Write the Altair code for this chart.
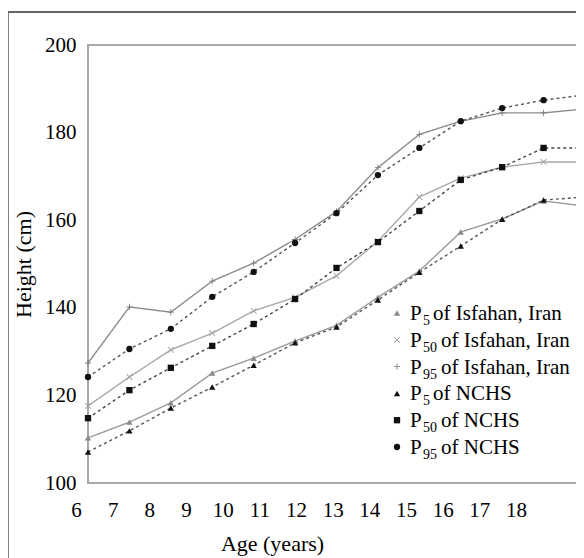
import altair as alt
import pandas as pd

# ---- data ----
ages = [6, 7, 8, 9, 10, 11, 12, 13, 14, 15, 16, 17, 18]
x_tick_labels = [6, 7, 8, 9, 10, 11, 12, 13, 14, 15, 16, 17, 18]
y_tick_labels = [100, 120, 140, 160, 180, 200]

p5_isfahan = [110.3, 113.9, 118.3, 125.1, 128.5, 132.4, 136.0, 142.4, 148.4, 157.3, 160.3, 164.4, 163.2]
p50_isfahan = [117.6, 124.2, 130.4, 134.2, 139.3, 142.4, 147.3, 155.2, 165.3, 169.6, 172.1, 173.3, 173.3]
p95_isfahan = [127.4, 140.2, 139.0, 146.1, 150.2, 155.6, 162.0, 172.0, 179.6, 182.6, 184.5, 184.5, 185.4]
p5_nchs = [107.1, 111.9, 117.1, 121.9, 126.9, 132.0, 135.6, 141.8, 148.1, 154.1, 160.2, 164.6, 165.3]
p50_nchs = [114.8, 121.2, 126.3, 131.3, 136.3, 142.0, 149.1, 155.0, 162.1, 169.2, 172.1, 176.5, 176.5]
p95_nchs = [124.2, 130.6, 135.2, 142.5, 148.2, 154.8, 161.6, 170.3, 176.5, 182.6, 185.6, 187.4, 188.6]

# legend texts: "P" + subscript percentile + rest
percentiles = ["5", "50", "95", "5", "50", "95"]
sources = ["of Isfahan, Iran", "of Isfahan, Iran", "of Isfahan, Iran",
           "of NCHS", "of NCHS", "of NCHS"]
series_names = ["P" + p + " " + s for p, s in zip(percentiles, sources)]
series_values = [p5_isfahan, p50_isfahan, p95_isfahan, p5_nchs, p50_nchs, p95_nchs]

rows = []
for name, vals in zip(series_names, series_values):
    for a, v in zip(ages, vals):
        rows.append({"series": name, "age": a, "height": v})
df = pd.DataFrame(rows)
legend_df = pd.DataFrame({
    "series": series_names,
    "sub": percentiles,
    "rest": sources,
    "ndigits": [len(p) for p in percentiles],
})

# ---- styling ----
W, H = 497, 438
FONT = "Liberation Serif"

line_colors = ["#9a9a9a", "#a8a8a8", "#8c8c8c", "#555555", "#444444", "#555555"]
line_dashes = [[1, 0], [1, 0], [1, 0], [3, 3], [3, 3], [3, 3]]
marker_colors = ["#8a8a8a", "#a0a0a0", "#7a7a7a", "#111111", "#111111", "#111111"]
X_SHAPE = ("M0,-0.21L0.79,-1L1,-0.79L0.21,0L1,0.79L0.79,1L0,0.21L-0.79,1L-1,0.79"
           "L-0.21,0L-1,-0.79L-0.79,-1Z")
PLUS_SHAPE = ("M-1,-0.14L-0.14,-0.14L-0.14,-1L0.14,-1L0.14,-0.14L1,-0.14L1,0.14"
              "L0.14,0.14L0.14,1L-0.14,1L-0.14,0.14L-1,0.14Z")
marker_shapes = ["triangle-up", X_SHAPE, PLUS_SHAPE, "triangle-up", "square", "circle"]

fill_enc = alt.Fill("series:N", scale=alt.Scale(domain=series_names, range=marker_colors), legend=None)
shape_enc = alt.Shape("series:N", scale=alt.Scale(domain=series_names, range=marker_shapes), legend=None)

x_main = alt.X("age:Q", scale=alt.Scale(domain=[6, 18], nice=False, zero=False), axis=None)
y_scale = alt.Scale(domain=[100, 200], nice=False, zero=False)
y_main = alt.Y(
    "height:Q",
    scale=y_scale,
    axis=alt.Axis(
        values=y_tick_labels,
        title="Height (cm)",
        ticks=False,
        domain=False,
        grid=False,
        labelFont=FONT,
        labelFontSize=21,
        labelColor="black",
        labelPadding=12,
        titleFont=FONT,
        titleFontSize=22,
        titleFontWeight="normal",
        titleColor="black",
        titlePadding=9,
    ),
)
y_plain = alt.Y("height:Q", scale=y_scale, axis=None)

lines = alt.Chart(df).mark_line(strokeWidth=1.4).encode(
    x=x_main,
    y=y_main,
    color=alt.Color("series:N", scale=alt.Scale(domain=series_names, range=line_colors), legend=None),
    strokeDash=alt.StrokeDash("series:N", scale=alt.Scale(domain=series_names, range=line_dashes), legend=None),
    detail="series:N",
)

points = alt.Chart(df).mark_point(filled=True, size=40, opacity=1).encode(
    x=x_main, y=y_plain, fill=fill_enc, shape=shape_enc
)

# legend drawn as its own small layer (rows placed by a point scale)
legend_y = alt.Y(
    "series:N",
    scale=alt.Scale(type="point", domain=series_names, range=[268, 402], padding=0),
    axis=None,
)
legend_base = alt.Chart(legend_df)
legend_symbols = legend_base.mark_point(filled=True, size=40, opacity=1).encode(
    x=alt.value(309), y=legend_y, fill=fill_enc, shape=shape_enc
)
legend_p = legend_base.mark_text(
    align="left", baseline="middle", font=FONT, fontSize=21, color="black", dy=1
).encode(x=alt.value(322), y=legend_y, text=alt.value("P"))
legend_sub = legend_base.mark_text(
    align="left", baseline="middle", font=FONT, fontSize=14, color="black", dy=8
).encode(x=alt.value(335), y=legend_y, text="sub:N")
legend_rest1 = legend_base.transform_filter("datum.ndigits == 1").mark_text(
    align="left", baseline="middle", font=FONT, fontSize=21, color="black", dy=1
).encode(x=alt.value(345), y=legend_y, text="rest:N")
legend_rest2 = legend_base.transform_filter("datum.ndigits == 2").mark_text(
    align="left", baseline="middle", font=FONT, fontSize=21, color="black", dy=1
).encode(x=alt.value(353), y=legend_y, text="rest:N")

# x-axis labels, printed slightly compressed relative to the plotted ages
axis_df = pd.DataFrame({"age": x_tick_labels})
xaxis = alt.Chart(axis_df).mark_point(opacity=0).encode(
    x=alt.X(
        "age:Q",
        scale=alt.Scale(domain=[6, 18], range=[-12, 428], nice=False, zero=False),
        axis=alt.Axis(
            values=x_tick_labels,
            orient="bottom",
            title="Age (years)",
            ticks=False,
            domain=False,
            grid=False,
            labelFont=FONT,
            labelFontSize=21,
            labelColor="black",
            labelPadding=16,
            labelFlush=False,
            labelOverlap=False,
            titleFont=FONT,
            titleFontSize=22,
            titleFontWeight="normal",
            titleColor="black",
            titlePadding=13,
            titleX=184,
        ),
    )
)

frame_df = pd.DataFrame({"k": [0]})
frame_left = alt.Chart(frame_df).mark_rule(color="#555555", strokeWidth=1.5).encode(
    x=alt.value(-80), y=alt.value(-33), y2=alt.value(H + 80)
)
frame_top = alt.Chart(frame_df).mark_rule(color="#666666", strokeWidth=2).encode(
    x=alt.value(-80), x2=alt.value(W + 10), y=alt.value(-33)
)

chart = (
    alt.layer(frame_left, frame_top, lines, points, xaxis,
              legend_symbols, legend_p, legend_sub, legend_rest1, legend_rest2)
    .resolve_scale(x="independent", y="independent")
    .properties(
        width=W,
        height=H,
        autosize=alt.AutoSizeParams(type="none"),
        padding={"left": 80, "top": 37, "right": -9, "bottom": 75},
    )
    .configure(background="white", font=FONT)
    .configure_view(stroke="#a8a8a8", strokeWidth=2)
)

chart.save("out.html", embed_options={"renderer": "svg", "actions": False})
